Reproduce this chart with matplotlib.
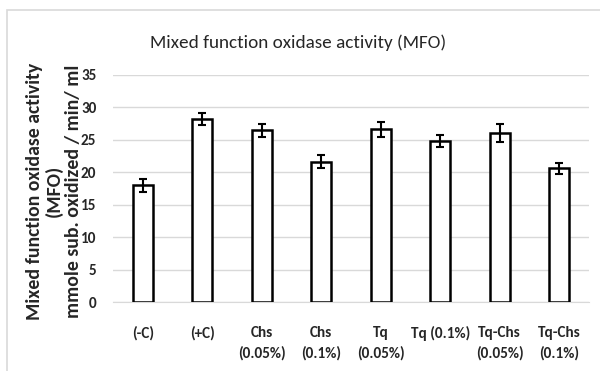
import numpy as np
import matplotlib.pyplot as plt
from matplotlib.patches import Rectangle

groups = ["(-C)", "(+C)", "Chs\n(0.05%)", "Chs\n(0.1%)", "Tq\n(0.05%)",
          "Tq (0.1%)", "Tq-Chs\n(0.05%)", "Tq-Chs\n(0.1%)"]
mfo = [18.0, 28.2, 26.5, 21.6, 26.6, 24.8, 26.0, 20.6]
mfo_err = [1.0, 0.9, 1.0, 1.0, 1.2, 0.9, 1.4, 0.9]
y_ticks = [0, 5, 10, 15, 20, 25, 30, 35]

# Calibri look-alike first, then narrow fallbacks
LABEL_FONT = ["Carlito", "Fira Sans Condensed", "DejaVu Sans"]
TEXT_COLOR = "#262626"

fig = plt.figure(figsize=(6, 3.71), dpi=100)
fig.patches.append(Rectangle((7 / 600, -0.1), 1.1, 1.1 - 10 / 371,
                             transform=fig.transFigure, fill=False,
                             edgecolor="#d9d9d9", linewidth=1.2))

ax = fig.add_axes([113 / 600, 1 - 302 / 371, 476 / 600, 227 / 371])
x = np.arange(len(groups))
ax.bar(x, mfo, width=0.33, color="white", edgecolor="black", linewidth=1.8,
       zorder=3)
ax.errorbar(x, mfo, yerr=mfo_err, fmt="none", ecolor="black", elinewidth=1.5,
            capsize=3, capthick=1.5, zorder=4)

ax.set_xlim(-0.5, len(groups) - 0.5)
ax.set_ylim(0, 35)
ax.set_yticks(y_ticks)
ax.set_xticks(x)
ax.set_xticklabels(groups, family=LABEL_FONT, fontweight="bold", fontsize=11,
                   color=TEXT_COLOR, linespacing=1.6)
ax.set_yticklabels([str(t) for t in y_ticks], family=LABEL_FONT,
                   fontweight="bold", fontsize=11, color=TEXT_COLOR)
ax.tick_params(axis="both", length=0)
ax.tick_params(axis="x", pad=17)
ax.tick_params(axis="y", pad=12)
ax.grid(axis="y", color="#d9d9d9", linewidth=1, zorder=0)
for side in ["top", "right", "left"]:
    ax.spines[side].set_visible(False)
ax.spines["bottom"].set_color("#d9d9d9")

fig.text(298 / 600, 1 - 43 / 371, "Mixed function oxidase activity (MFO)",
         family=LABEL_FONT, fontsize=13.8, color=TEXT_COLOR,
         ha="center", va="center")
fig.text(54 / 600, 1 - 191 / 371,
         "Mixed function oxidase activity\n(MFO)\nmmole sub. oxidized / min/ ml",
         family=LABEL_FONT, fontsize=14.2, fontweight="bold",
         color=TEXT_COLOR, rotation=90, ha="center", va="center",
         multialignment="center", linespacing=1.12)

fig.savefig("out.png", dpi=100)
